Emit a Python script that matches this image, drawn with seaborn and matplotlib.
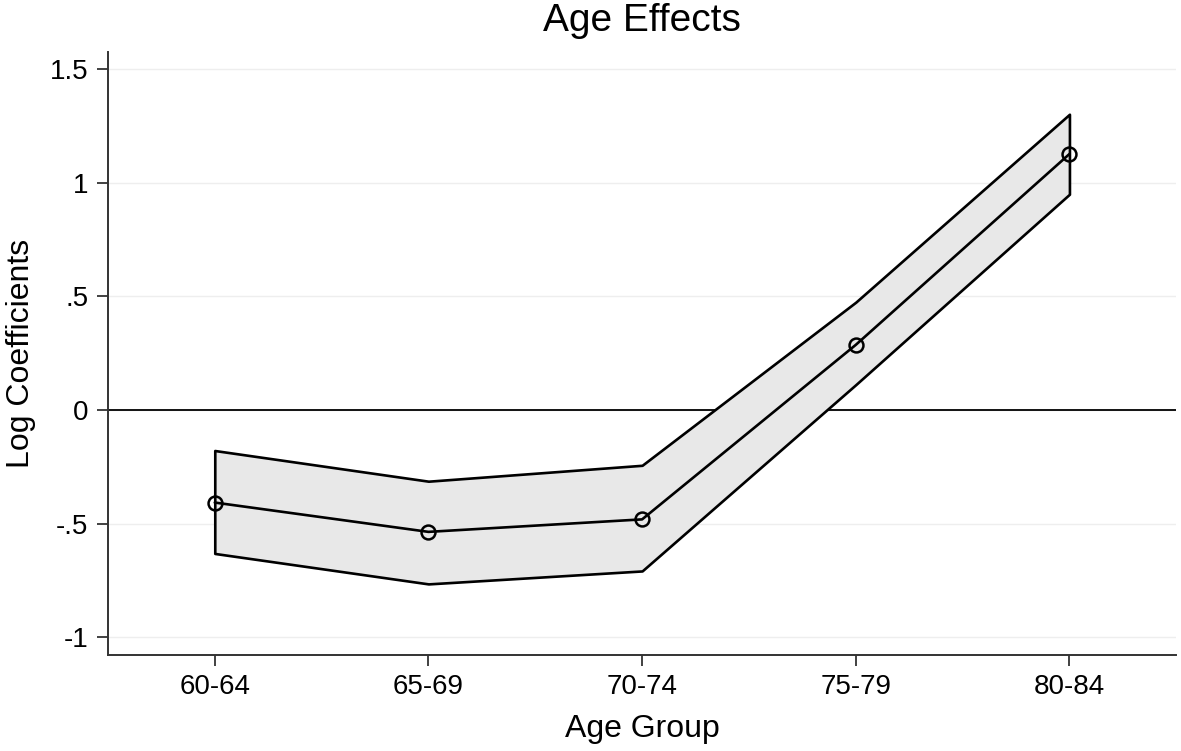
"""Age effects: log coefficients by age group with confidence band"""
import numpy as np
import pandas as pd
import seaborn as sns
import matplotlib.pyplot as plt

age_groups = ["60-64", "65-69", "70-74", "75-79", "80-84"]
coef = [-0.407, -0.536, -0.481, 0.287, 1.127]
ci_upper = [-0.178, -0.313, -0.243, 0.475, 1.302]
ci_lower = [-0.631, -0.765, -0.708, 0.112, 0.950]
ytick_vals = [-1, -0.5, 0, 0.5, 1, 1.5]
ytick_labels = ["-1", "-.5", "0", ".5", "1", "1.5"]

sns.set_style("ticks")
plt.rcParams['font.family'] = ['Liberation Sans', 'DejaVu Sans']
plt.rcParams['text.color'] = 'black'
plt.rcParams['axes.labelcolor'] = 'black'
plt.rcParams['xtick.color'] = 'black'
plt.rcParams['ytick.color'] = 'black'

df = pd.DataFrame({"pos": np.arange(len(age_groups)), "coef": coef,
                   "lo": ci_lower, "hi": ci_upper})

fig = plt.figure(figsize=(11.81, 7.51), dpi=100)
ax = fig.add_axes([0.0914, 0.1278, 0.9046, 0.803])

# grid lines
for y in ytick_vals:
    ax.axhline(y, color="#eeeeee", lw=1.0, zorder=0)

# confidence band (outlined polygon)
ax.fill_between(df["pos"], df["lo"], df["hi"], facecolor="#e8e8e8",
                edgecolor="black", linewidth=1.9, zorder=2)

ax.axhline(0, color="black", lw=1.3, zorder=1)

sns.lineplot(data=df, x="pos", y="coef", color="black", linewidth=1.9,
             marker="o", markersize=10, markerfacecolor="none",
             markeredgecolor="black", markeredgewidth=1.8, ax=ax, zorder=3)

ax.set_xlim(-0.5, 4.5)
ax.set_ylim(-1.078, 1.576)
ax.set_xticks(df["pos"])
ax.set_xticklabels(age_groups)
ax.set_yticks(ytick_vals)
ax.set_yticklabels(ytick_labels)
ax.tick_params(axis="both", labelsize=20, length=8, width=1.3, color="#333333", pad=6)

for side in ["top", "right"]:
    ax.spines[side].set_visible(False)
for side in ["left", "bottom"]:
    ax.spines[side].set_linewidth(1.4)
    ax.spines[side].set_color("#333333")

ax.set_xlabel("Age Group", fontsize=23, labelpad=10)
ax.set_ylabel("Log Coefficients", fontsize=23, labelpad=10)
ax.set_title("Age Effects", fontsize=28, pad=15)

fig.savefig("out.png", dpi=100)
